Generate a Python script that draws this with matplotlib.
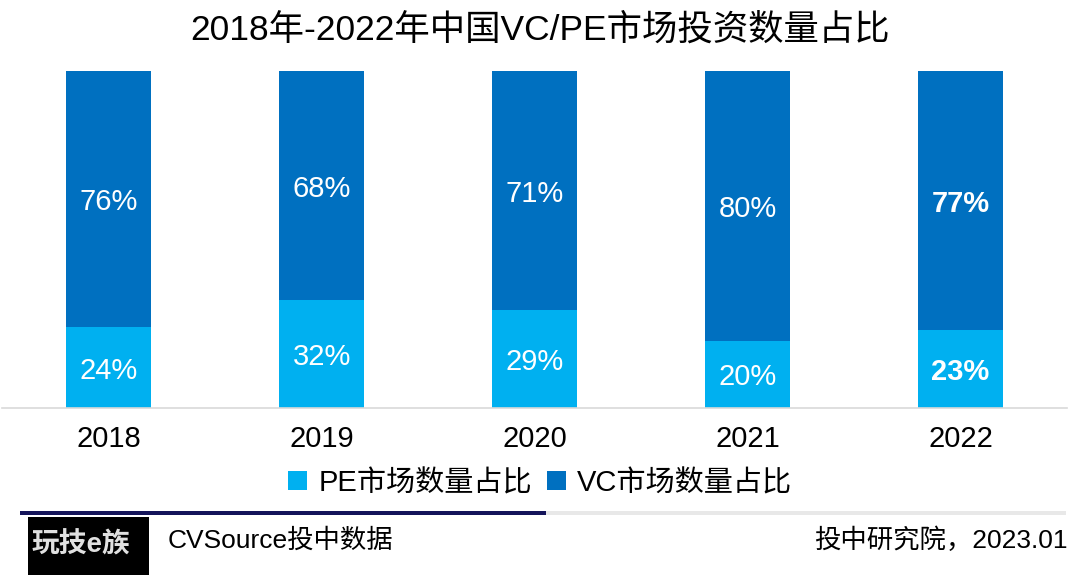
import numpy as np
import matplotlib
matplotlib.use('Agg')
import matplotlib.pyplot as plt
from matplotlib.patches import Rectangle

plt.rcParams['font.family'] = ['Liberation Sans', 'Noto Sans CJK SC', 'DejaVu Sans']

# data
years = ['2018', '2019', '2020', '2021', '2022']
pe_share = [24, 32, 29, 20, 23]
vc_share = [76, 68, 71, 80, 77]
bold_years = ['2022']

title = '2018年-2022年中国VC/PE市场投资数量占比'
pe_label = 'PE市场数量占比'
vc_label = 'VC市场数量占比'
source = 'CVSource投中数据'
credit = '投中研究院，2023.01'

pe_color = '#00B0F0'
vc_color = '#0070C0'

fig = plt.figure(figsize=(10.8, 5.84), dpi=100)
ax = fig.add_axes([0.002, 1 - 408 / 584, 0.986, (408 - 71) / 584])

x = np.arange(len(years))
pe = np.array(pe_share)
vc = np.array(vc_share)
ax.bar(x, pe, width=0.4, color=pe_color, label=pe_label)
ax.bar(x, vc, width=0.4, bottom=pe, color=vc_color, label=vc_label)

for i, yr in enumerate(years):
    w = 'bold' if yr in bold_years else 'normal'
    ax.text(x[i], pe[i] / 2, f'{pe[i]}%', ha='center', va='center_baseline',
            color='white', fontsize=21, fontweight=w)
    ax.text(x[i], pe[i] + vc[i] / 2, f'{vc[i]}%', ha='center', va='center_baseline',
            color='white', fontsize=21, fontweight=w)

ax.set_xlim(-0.5, 4.5)
ax.set_ylim(0, 100)
ax.set_xticks(x)
ax.set_xticklabels(years, fontsize=21)
ax.tick_params(axis='x', length=0, pad=12)
ax.set_yticks([])
for s in ['top', 'right', 'left']:
    ax.spines[s].set_visible(False)
ax.spines['bottom'].set_color('#D9D9D9')
ax.spines['bottom'].set_linewidth(1.2)

fig.text(0.5, 1 - 30 / 584, title, ha='center', va='center', fontsize=25.5)

fig.legend(loc='center', bbox_to_anchor=(0.5, 1 - 483 / 584), ncol=2,
           frameon=False, fontsize=21, handlelength=0.65, handleheight=0.65,
           handletextpad=0.4, columnspacing=0.5)

# footer
fig.add_artist(Rectangle((20 / 1080, 1 - 515 / 584), 526 / 1080, 4 / 584,
                         transform=fig.transFigure, color='#14145A', lw=0))
fig.add_artist(Rectangle((546 / 1080, 1 - 515 / 584), 520 / 1080, 4 / 584,
                         transform=fig.transFigure, color='#E8E8E8', lw=0))
fig.add_artist(Rectangle((28 / 1080, 1 - 575 / 584), 121 / 1080, 58 / 584,
                         transform=fig.transFigure, color='black', lw=0))
fig.text(32 / 1080, 1 - 545 / 584, '玩技e族', ha='left', va='center',
         fontsize=20, fontweight='bold', color='#E0E0E0')
fig.text(168 / 1080, 1 - 538 / 584, source, ha='left', va='center_baseline', fontsize=19)
fig.text(1068 / 1080, 1 - 538 / 584, credit, ha='right', va='center_baseline', fontsize=19)

fig.savefig('out.png', dpi=100, facecolor='white')
